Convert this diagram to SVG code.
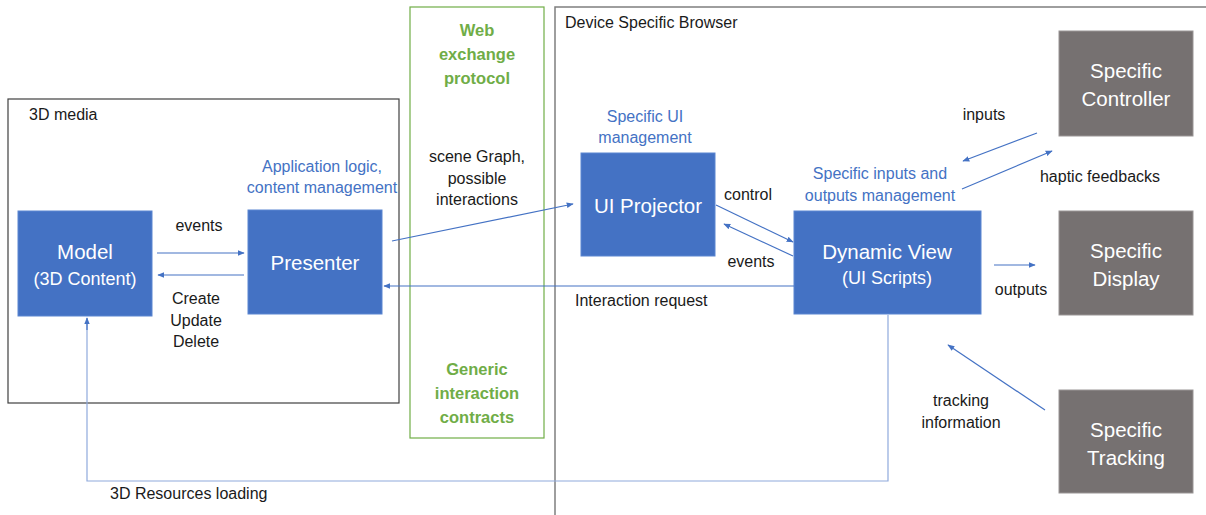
<svg xmlns="http://www.w3.org/2000/svg" width="1206" height="515" viewBox="0 0 1206 515">
<defs>
<marker id="ah" viewBox="0 0 10 10" refX="9" refY="5" markerWidth="7" markerHeight="7" orient="auto-start-reverse" markerUnits="userSpaceOnUse">
<path d="M0,1 L10,5 L0,9 Z" fill="#4472C4"/>
</marker>
<style>
text{font-family:"Liberation Sans",Arial,sans-serif}
.lbl{font-size:16px;fill:#1a1a1a;text-anchor:middle}
.plain{font-size:16px;fill:#1a1a1a}
.blue{font-size:16px;fill:#4472C4;text-anchor:middle}
.green{font-size:16.5px;fill:#70AD47;font-weight:bold;text-anchor:middle}
.nodeb{fill:#4472C4;stroke:#5b86d1;stroke-width:1}
.nodeg{fill:#767171;stroke:#9a9696;stroke-width:1}
.nt{font-size:20.5px;fill:#ffffff;text-anchor:middle}
.ns{font-size:18px;fill:#ffffff;text-anchor:middle}
.con{stroke:#4472C4;stroke-width:1.2;fill:none}
</style>
</defs>
<rect width="1206" height="515" fill="#ffffff"/>
<g id="container-3dmedia">
<rect x="8" y="99" width="391" height="304" fill="none" stroke="#404040" stroke-width="1.2"/>
<text class="plain" x="29" y="120">3D media</text>
</g>
<g id="container-web">
<rect x="410" y="7" width="134" height="431" fill="none" stroke="#70AD47" stroke-width="1.2"/>
<text class="green" x="477" y="36">Web</text>
<text class="green" x="477" y="60">exchange</text>
<text class="green" x="477" y="84">protocol</text>
<text class="lbl" x="477" y="162">scene Graph,</text>
<text class="lbl" x="477" y="184">possible</text>
<text class="lbl" x="477" y="205">interactions</text>
<text class="green" x="477" y="375">Generic</text>
<text class="green" x="477" y="399">interaction</text>
<text class="green" x="477" y="423">contracts</text>
</g>
<g id="container-browser">
<path d="M555,515 L555,7 L1206,7" fill="none" stroke="#7f7f7f" stroke-width="1.5"/>
<text class="plain" x="565" y="28">Device Specific Browser</text>
</g>
<g id="model">
<rect class="nodeb" x="18" y="211" width="134" height="105"/>
<text class="nt" x="85" y="259">Model</text>
<text class="ns" x="85" y="285">(3D Content)</text>
</g>
<g id="presenter">
<rect class="nodeb" x="248" y="210" width="134" height="104"/>
<text class="nt" x="315" y="270">Presenter</text>
<text class="blue" x="322" y="172">Application logic,</text>
<text class="blue" x="322" y="193">content management</text>
</g>
<g id="uiprojector">
<rect class="nodeb" x="581" y="153" width="134" height="103"/>
<text class="nt" x="648" y="213">UI Projector</text>
<text class="blue" x="645" y="122">Specific UI</text>
<text class="blue" x="645" y="143">management</text>
</g>
<g id="dynamicview">
<rect class="nodeb" x="794" y="211" width="187" height="103"/>
<text class="nt" x="887" y="259">Dynamic View</text>
<text class="ns" x="887" y="284">(UI Scripts)</text>
<text class="blue" x="880" y="179">Specific inputs and</text>
<text class="blue" x="880" y="201">outputs management</text>
</g>
<g id="controller">
<rect class="nodeg" x="1059" y="31" width="134" height="105"/>
<text class="nt" x="1126" y="78">Specific</text>
<text class="nt" x="1126" y="106">Controller</text>
</g>
<g id="display">
<rect class="nodeg" x="1059" y="211" width="134" height="104"/>
<text class="nt" x="1126" y="258">Specific</text>
<text class="nt" x="1126" y="286">Display</text>
</g>
<g id="tracking">
<rect class="nodeg" x="1059" y="390" width="134" height="103"/>
<text class="nt" x="1126" y="437">Specific</text>
<text class="nt" x="1126" y="465">Tracking</text>
</g>
<g id="connectors">
<line class="con" x1="157" y1="253" x2="244" y2="253" marker-end="url(#ah)"/>
<line class="con" x1="244" y1="275" x2="158" y2="275" marker-end="url(#ah)"/>
<line class="con" x1="392" y1="241" x2="573" y2="204" marker-end="url(#ah)"/>
<line class="con" x1="716" y1="205" x2="793" y2="242" marker-end="url(#ah)"/>
<line class="con" x1="793" y1="256" x2="724" y2="224" marker-end="url(#ah)"/>
<line class="con" x1="794" y1="286" x2="384" y2="286" marker-end="url(#ah)"/>
<line class="con" x1="1037" y1="133" x2="963" y2="161" marker-end="url(#ah)"/>
<line class="con" x1="962" y1="189" x2="1052" y2="151" marker-end="url(#ah)"/>
<line class="con" x1="994" y1="265" x2="1035" y2="265" marker-end="url(#ah)"/>
<line class="con" x1="1045" y1="410" x2="948" y2="345" marker-end="url(#ah)"/>
<polyline class="con" style="stroke:#8FAADC" points="888,315 888,481 87,481 87,320"/>
<line class="con" x1="87" y1="330" x2="87" y2="318" marker-end="url(#ah)"/>
<text class="lbl" x="199" y="231">events</text>
<text class="lbl" x="196" y="304">Create</text>
<text class="lbl" x="196" y="326">Update</text>
<text class="lbl" x="196" y="347">Delete</text>
<text class="lbl" x="748" y="200">control</text>
<text class="lbl" x="751" y="267">events</text>
<text class="plain" x="575" y="306">Interaction request</text>
<text class="lbl" x="984" y="120">inputs</text>
<text class="lbl" x="1100" y="182">haptic feedbacks</text>
<text class="lbl" x="1021" y="295">outputs</text>
<text class="lbl" x="961" y="406">tracking</text>
<text class="lbl" x="961" y="428">information</text>
<text class="plain" x="110" y="499">3D Resources loading</text>
</g>
</svg>
